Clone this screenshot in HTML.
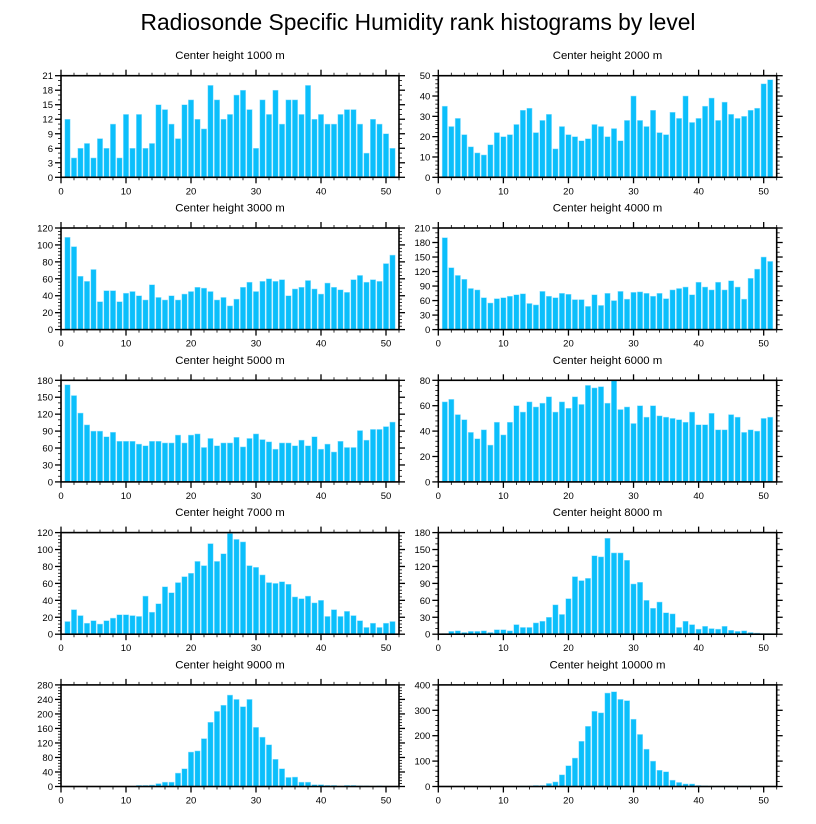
<!DOCTYPE html>
<html><head><meta charset="utf-8">
<style>
html,body{margin:0;padding:0;background:#fff;}
svg{display:block;font-family:"Liberation Sans",Arial,sans-serif;}
</style></head>
<body>
<svg id="chart" width="816" height="824" viewBox="0 0 816 824" xmlns="http://www.w3.org/2000/svg">
<text x="418" y="30" font-size="22.8" text-anchor="middle" fill="#000">Radiosonde Specific Humidity rank histograms by level</text>
</svg>
<script>
const heights = [1000,2000,3000,4000,5000,6000,7000,8000,9000,10000];
const yMax = [21,50,120,210,180,80,120,180,280,400];
const yStep = [3,10,20,30,30,20,20,30,40,100];
const xTicks = [0,10,20,30,40,50];
const h1000 = [12,4,6,7,4,8,6,11,4,13,6,13,6,7,15,14,11,8,15,16,12,10,19,16,12,13,17,18,14,6,16,13,18,11,16,16,13,19,12,13,11,11,13,14,14,11,5,12,11,9,6];
const h2000 = [35,25,29,21,15,12,11,16,22,20,21,26,33,34,22,28,31,14,25,21,20,18,19,26,25,20,24,18,28,40,28,25,33,22,21,32,29,40,27,29,35,39,28,37,31,29,30,33,34,46,48];
const h3000 = [109,98,63,57,71,33,46,46,33,43,45,40,35,53,38,35,40,35,42,45,50,49,45,35,38,28,36,50,56,45,57,60,57,59,40,48,50,58,48,42,55,50,47,44,59,64,56,59,57,78,88];
const h4000 = [190,128,112,104,85,82,66,55,64,66,69,72,74,54,51,79,69,66,75,73,62,62,48,72,50,75,60,79,63,77,78,75,69,75,64,82,85,88,72,98,88,82,98,82,101,88,63,106,125,150,141];
const h5000 = [172,153,122,101,90,90,80,88,72,72,72,67,64,72,72,69,69,83,69,83,85,61,77,64,69,69,79,62,77,85,75,71,58,69,69,64,74,64,80,58,67,53,72,61,61,91,74,93,93,98,106];
const h6000 = [63,65,53,49,39,34,41,29,47,37,47,60,55,63,59,62,67,55,63,58,67,61,76,74,75,62,80,57,59,46,60,51,60,52,51,50,49,47,55,45,45,54,41,41,53,51,39,41,40,50,51];
const h7000 = [15,29,22,13,16,12,16,19,23,23,22,21,45,26,36,56,49,61,68,72,86,81,107,86,95,119,112,109,81,79,70,61,60,62,59,44,42,45,37,40,21,29,21,27,22,16,8,13,8,13,15];
const h8000 = [1,5,6,3,5,5,6,3,8,8,6,17,12,12,20,23,30,52,35,63,102,95,99,139,137,170,144,144,131,89,92,60,46,57,38,36,12,23,17,9,14,10,9,14,7,5,6,3,2,1,1];
const h9000 = [0,0,0,0,0,0,0,0,0,0,0,3,3,4,8,12,12,37,49,95,98,132,177,207,224,252,240,220,240,163,136,115,75,49,25,26,12,12,5,5,3,3,1,3,3,2,2,1,2,1,0];
const h10000 = [0,0,0,0,0,0,0,0,0,0,0,0,2,2,4,4,12,18,46,82,112,178,237,296,290,368,373,343,338,265,205,147,100,64,58,25,16,10,10,4,3,2,2,2,2,2,2,2,1,1,1];
const series = [h1000,h2000,h3000,h4000,h5000,h6000,h7000,h8000,h9000,h10000];

const NS="http://www.w3.org/2000/svg";
const svg=document.getElementById('chart');
function mk(tag,attrs,parent){const e=document.createElementNS(NS,tag);for(const k in attrs)e.setAttribute(k,attrs[k]);(parent||svg).appendChild(e);return e;}

const colX=[[61,399],[438.3,776.7]];
const rowTop=75.7, rowPitch=152.3, ph=101.6, xMaxV=52;

series.forEach((vals,p)=>{
  const col=p%2,row=Math.floor(p/2);
  const x0=colX[col][0],x1=colX[col][1];
  const top=rowTop+row*rowPitch,bot=top+ph;
  const g=mk('g',{});
  
  
  const xs=v=>x0+(x1-x0)*v/xMaxV;
  const ys=v=>bot-ph*v/yMax[p];
  const t=mk('text',{x:(x0+x1)/2,y:top-16.5,'font-size':11.4,'text-anchor':'middle',fill:'#000'},g);
  t.textContent='Center height '+heights[p]+' m';
  
  
  const bw=(x1-x0)/xMaxV*0.82;
  vals.forEach((v,i)=>{
    if(v<=0)return;
    const r=mk('rect',{x:xs(i+1)-bw/2,y:ys(v),width:bw,height:bot-ys(v),fill:'#0BBFFB',stroke:'#9BE3FF','stroke-width':0.5},g);
    
    
  });
  const fr=mk('rect',{x:x0,y:top,width:x1-x0,height:ph,fill:'none',stroke:'#000','stroke-width':1.6},g);
  
  
  for(let v=0;v<=xMaxV;v+=2){
    const major=v%10===0,L=major?6:3,x=xs(v);
    mk('line',{x1:x,x2:x,y1:bot,y2:bot+L,stroke:'#000','stroke-width':major?1.3:0.8},g);
    mk('line',{x1:x,x2:x,y1:top,y2:top-L,stroke:'#000','stroke-width':major?1.3:0.8},g);
  }
  xTicks.forEach(v=>{
    const tt=mk('text',{x:xs(v),y:bot+17,'font-size':9.5,'text-anchor':'middle',fill:'#000'},g);
    tt.textContent=v;
    
    
  });
  const step=yStep[p],nm=(step%3===0)?3:5,ms=step/nm;
  for(let k=0;k*ms<=yMax[p]+1e-9;k++){
    const v=k*ms,major=k%nm===0,L=major?6:3,y=ys(v);
    mk('line',{x1:x0,x2:x0-L,y1:y,y2:y,stroke:'#000','stroke-width':major?1.3:0.8},g);
    mk('line',{x1:x1,x2:x1+L,y1:y,y2:y,stroke:'#000','stroke-width':major?1.3:0.8},g);
    if(major){
      const yt=mk('text',{x:x0-8,y:y+3.5,'font-size':9.5,'text-anchor':'end',fill:'#000'},g);
      yt.textContent=v;
      
      
    }
  }
});
</script>
</body></html>
